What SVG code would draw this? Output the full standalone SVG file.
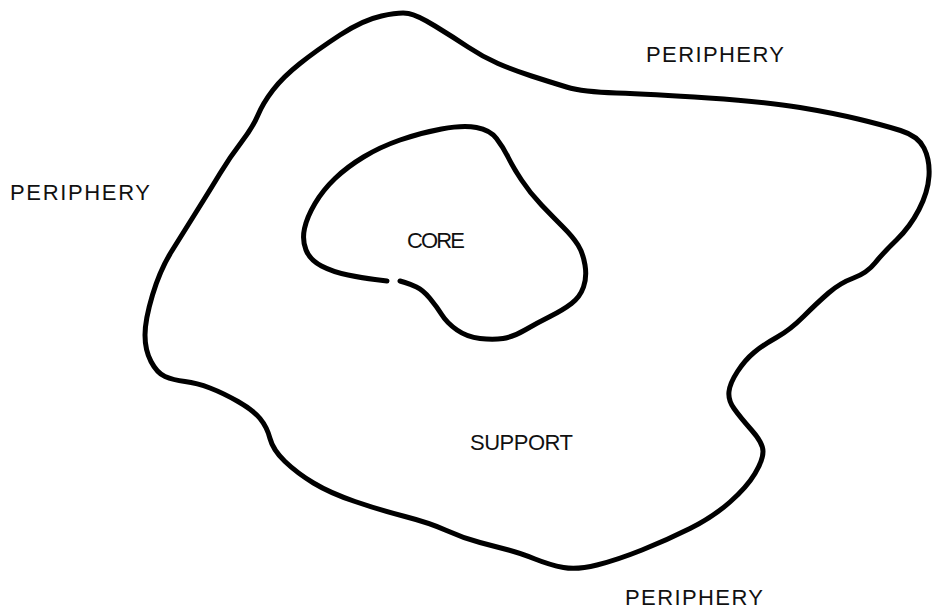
<svg xmlns="http://www.w3.org/2000/svg" width="933" height="611" viewBox="0 0 933 611">
<style>
.blob{fill:none;stroke:#000;stroke-width:5;stroke-linejoin:round;stroke-linecap:round}
.lbl{font-family:"Liberation Sans","DejaVu Sans",sans-serif;font-size:22px;fill:#111}
</style>
<rect width="933" height="611" fill="#fff"/>
<g id="support">
<path class="blob" d="M408.5,13.5 Q417,15 435,26 Q453,37 468,47 Q483,57 498,63.5 Q513,70 531.5,76 Q550,82 566.5,87 Q583,92 616.5,93 Q650,94 708.5,98 Q767,102 800,107.5 Q833,113 858,119 Q883,125 900.5,130.5 Q918,136 924,148 Q930,160 929,176 Q928,192 919,209.5 Q910,227 896.5,240 Q883,253 875,263 Q867,273 853.5,278 Q840,283 828.5,293 Q817,303 803.5,316.5 Q790,330 776.5,337.5 Q763,345 754,352.5 Q745,360 737.5,371.5 Q730,383 729,391.5 Q728,400 734,408.5 Q740,417 751.5,430 Q763,443 763,451.5 Q763,460 755,473.5 Q747,487 730,502 Q713,517 690,528.5 Q667,540 642,550 Q617,560 597,565 Q577,570 563.5,567.5 Q550,565 535,559 Q520,553 508.5,550 Q497,547 480,542.5 Q463,538 446.5,530.5 Q430,523 405,516.5 Q380,510 355,501.5 Q330,493 313.5,483 Q297,473 285,461.5 Q273,450 270,438.5 Q267,427 260,418.5 Q253,410 238,401.5 Q223,393 210,388 Q197,383 185,381.5 Q173,380 165,376.5 Q157,373 151,361.5 Q145,350 145,335 Q145,320 152.5,295 Q160,270 171.5,251.5 Q183,233 196.5,211.5 Q210,190 220,173.5 Q230,157 241.5,142 Q253,127 258,115 Q263,103 273,90 Q283,77 300,63.5 Q317,50 340,35 Q363,20 381.5,16 Q400,12 408.5,13.5 Z"/>
</g>
<g id="core">
<path class="blob" stroke-width="4.5" d="M400,281 L405,282.5 Q410,284 416.5,287 Q423,290 430,298.5 Q437,307 442,315 Q447,323 457,330 Q467,337 480,338.5 Q493,340 503,338.5 Q513,337 525,330 Q537,323 550,316.5 Q563,310 571.5,303.5 Q580,297 583.5,287 Q587,277 585,265 Q583,253 578,245 Q573,237 563,227 Q553,217 541.5,205 Q530,193 521.5,180 Q513,167 508,157 Q503,147 496.5,138.5 Q490,130 476.5,127.5 Q463,125 441.5,129 Q420,133 400,140 Q380,147 363.5,157 Q347,167 335,178.5 Q323,190 315,203.5 Q307,217 304.5,228.5 Q302,240 306,250 Q310,260 321.5,266 Q333,272 348,275 Q363,278 375,279.5 L387,281"/>
</g>
<g id="labels">
<text class="lbl" x="646" y="62" textLength="138" lengthAdjust="spacing">PERIPHERY</text>
<text class="lbl" x="10" y="200" textLength="140" lengthAdjust="spacing">PERIPHERY</text>
<text class="lbl" x="407" y="248" textLength="58" lengthAdjust="spacing">CORE</text>
<text class="lbl" x="470" y="450" textLength="103" lengthAdjust="spacing">SUPPORT</text>
<text class="lbl" x="625" y="605" textLength="138" lengthAdjust="spacing">PERIPHERY</text>
</g>
</svg>
